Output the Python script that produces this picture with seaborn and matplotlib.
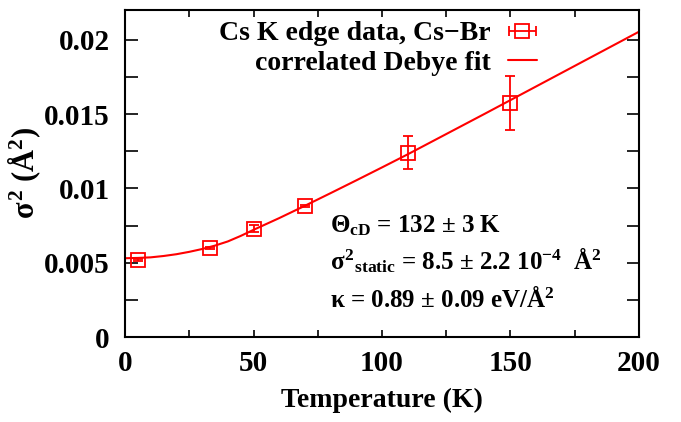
import numpy as np
import pandas as pd
import matplotlib
matplotlib.use("Agg")
import matplotlib.pyplot as plt
from matplotlib.ticker import MultipleLocator, FixedLocator
import seaborn as sns

# Measured Cs-Br mean-square relative displacement (Cs K edge)
temperature = [5, 33, 50, 70, 110, 150]
sigma2 = [0.00519, 0.00600, 0.00730, 0.00882, 0.01241, 0.01574]
sigma2_err = [0.00008, 0.00008, 0.00025, 0.00008, 0.00113, 0.00180]

# Correlated Debye model curve (fitted)
fit_T = [0, 5, 10, 15, 20, 25, 30, 35, 40, 45, 50, 60, 70, 80, 90, 100,
         110, 120, 130, 140, 150, 160, 170, 180, 190, 200]
fit_sigma2 = [0.00530, 0.00532, 0.00536, 0.00545, 0.00557, 0.00573, 0.00592,
              0.00615, 0.00643, 0.00680, 0.00721, 0.00800, 0.00883, 0.00968,
              0.01054, 0.01141, 0.01229, 0.01320, 0.01411, 0.01502, 0.01594,
              0.01686, 0.01778, 0.01870, 0.01962, 0.02054]

x_ticks = [0, 50, 100, 150, 200]
y_ticks = [0, 0.005, 0.01, 0.015, 0.02]
y_tick_labels = ["0", "0.005", "0.01", "0.015", "0.02"]

sns.set_theme(style="ticks")
plt.rcParams["font.family"] = ["Liberation Serif", "DejaVu Serif"]
plt.rcParams["font.weight"] = "bold"
plt.rcParams["text.color"] = "black"
plt.rcParams["axes.labelcolor"] = "black"
plt.rcParams["mathtext.fontset"] = "custom"
plt.rcParams["mathtext.rm"] = "Liberation Serif:bold"
plt.rcParams["mathtext.it"] = "Liberation Serif:bold"
plt.rcParams["mathtext.bf"] = "Liberation Serif:bold"
plt.rcParams["axes.unicode_minus"] = True

RED = "#ff0000"
TICK_FS = 21
LABEL_FS = 20
YLABEL_FS = 22
KEY_FS = 20
NOTE_FS = 18

fig = plt.figure(figsize=(6.81, 4.22), dpi=100)
ax = fig.add_axes([0.1836, 0.2014, 0.7547, 0.7749])

fit_df = pd.DataFrame({"T": fit_T, "s2": fit_sigma2})
sns.lineplot(data=fit_df, x="T", y="s2", ax=ax, color=RED, linewidth=1.5,
             label="correlated Debye fit")

ax.errorbar(temperature, sigma2, yerr=sigma2_err, fmt="s", mfc="none",
            mec=RED, ms=10.5, mew=1.3, ecolor=RED, elinewidth=1.3,
            capsize=3.5, capthick=1.3, zorder=3)

# key entry drawn gnuplot-style with a horizontal bar
data_key = ax.errorbar([np.nan], [np.nan], xerr=[1], fmt="s", mfc="none",
                       mec=RED, ms=10.5, mew=1.3, ecolor=RED, elinewidth=1.3,
                       capsize=3.5, capthick=1.3)
fit_key = ax.get_lines()[0]

ax.set_xlim(0, 200)
ax.set_ylim(0, 0.022)
ax.xaxis.set_major_locator(FixedLocator(x_ticks))
ax.xaxis.set_minor_locator(MultipleLocator(25))
ax.yaxis.set_major_locator(FixedLocator(y_ticks))
ax.set_yticklabels(y_tick_labels)
ax.yaxis.set_minor_locator(MultipleLocator(0.0025))

ax.tick_params(axis="x", which="both", direction="in", length=5, width=1.2,
               top=True, bottom=True, labelsize=TICK_FS, pad=9, colors="black")
ax.tick_params(axis="y", which="both", direction="in", length=9, width=1.2,
               left=True, right=True, labelsize=TICK_FS, pad=11, colors="black")
for lab in ax.get_xticklabels() + ax.get_yticklabels():
    lab.set_fontweight("bold")
for sp in ax.spines.values():
    sp.set_linewidth(1.5)
    sp.set_color("black")
    sp.set_visible(True)

ax.set_xlabel("Temperature (K)", fontsize=LABEL_FS, fontweight="bold",
              labelpad=8, color="black")
ax.set_ylabel(r"$σ^{2}$ (Å$^{2}$)", fontsize=YLABEL_FS, fontweight="bold",
              labelpad=1, color="black")

leg = ax.legend([data_key, fit_key],
                ["Cs K edge data, Cs\u2212Br", "correlated Debye fit"],
                loc="upper right", bbox_to_anchor=(0.8016, 0.967),
                frameon=False, markerfirst=False, fontsize=KEY_FS,
                handlelength=1.05, handletextpad=0.62, borderpad=0,
                borderaxespad=0, labelspacing=0.15)
for t in leg.get_texts():
    t.set_fontweight("bold")
    t.set_color("black")

note_kw = dict(transform=ax.transAxes, fontsize=NOTE_FS, fontweight="bold",
               va="baseline", color="black")
ax.text(0.399, 0.321, r"$Θ_{\mathrm{cD}}$ = 132 ± 3 K", **note_kw)
ax.text(0.399, 0.208,
        r"$σ^{2}{}_{\mathrm{static}}$ = 8.5 ± 2.2 10$^{-4}$  Å$^{2}$", **note_kw)
ax.text(0.399, 0.092, r"κ = 0.89 ± 0.09 eV/Å$^{2}$", **note_kw)

fig.savefig("out.png", dpi=100)
